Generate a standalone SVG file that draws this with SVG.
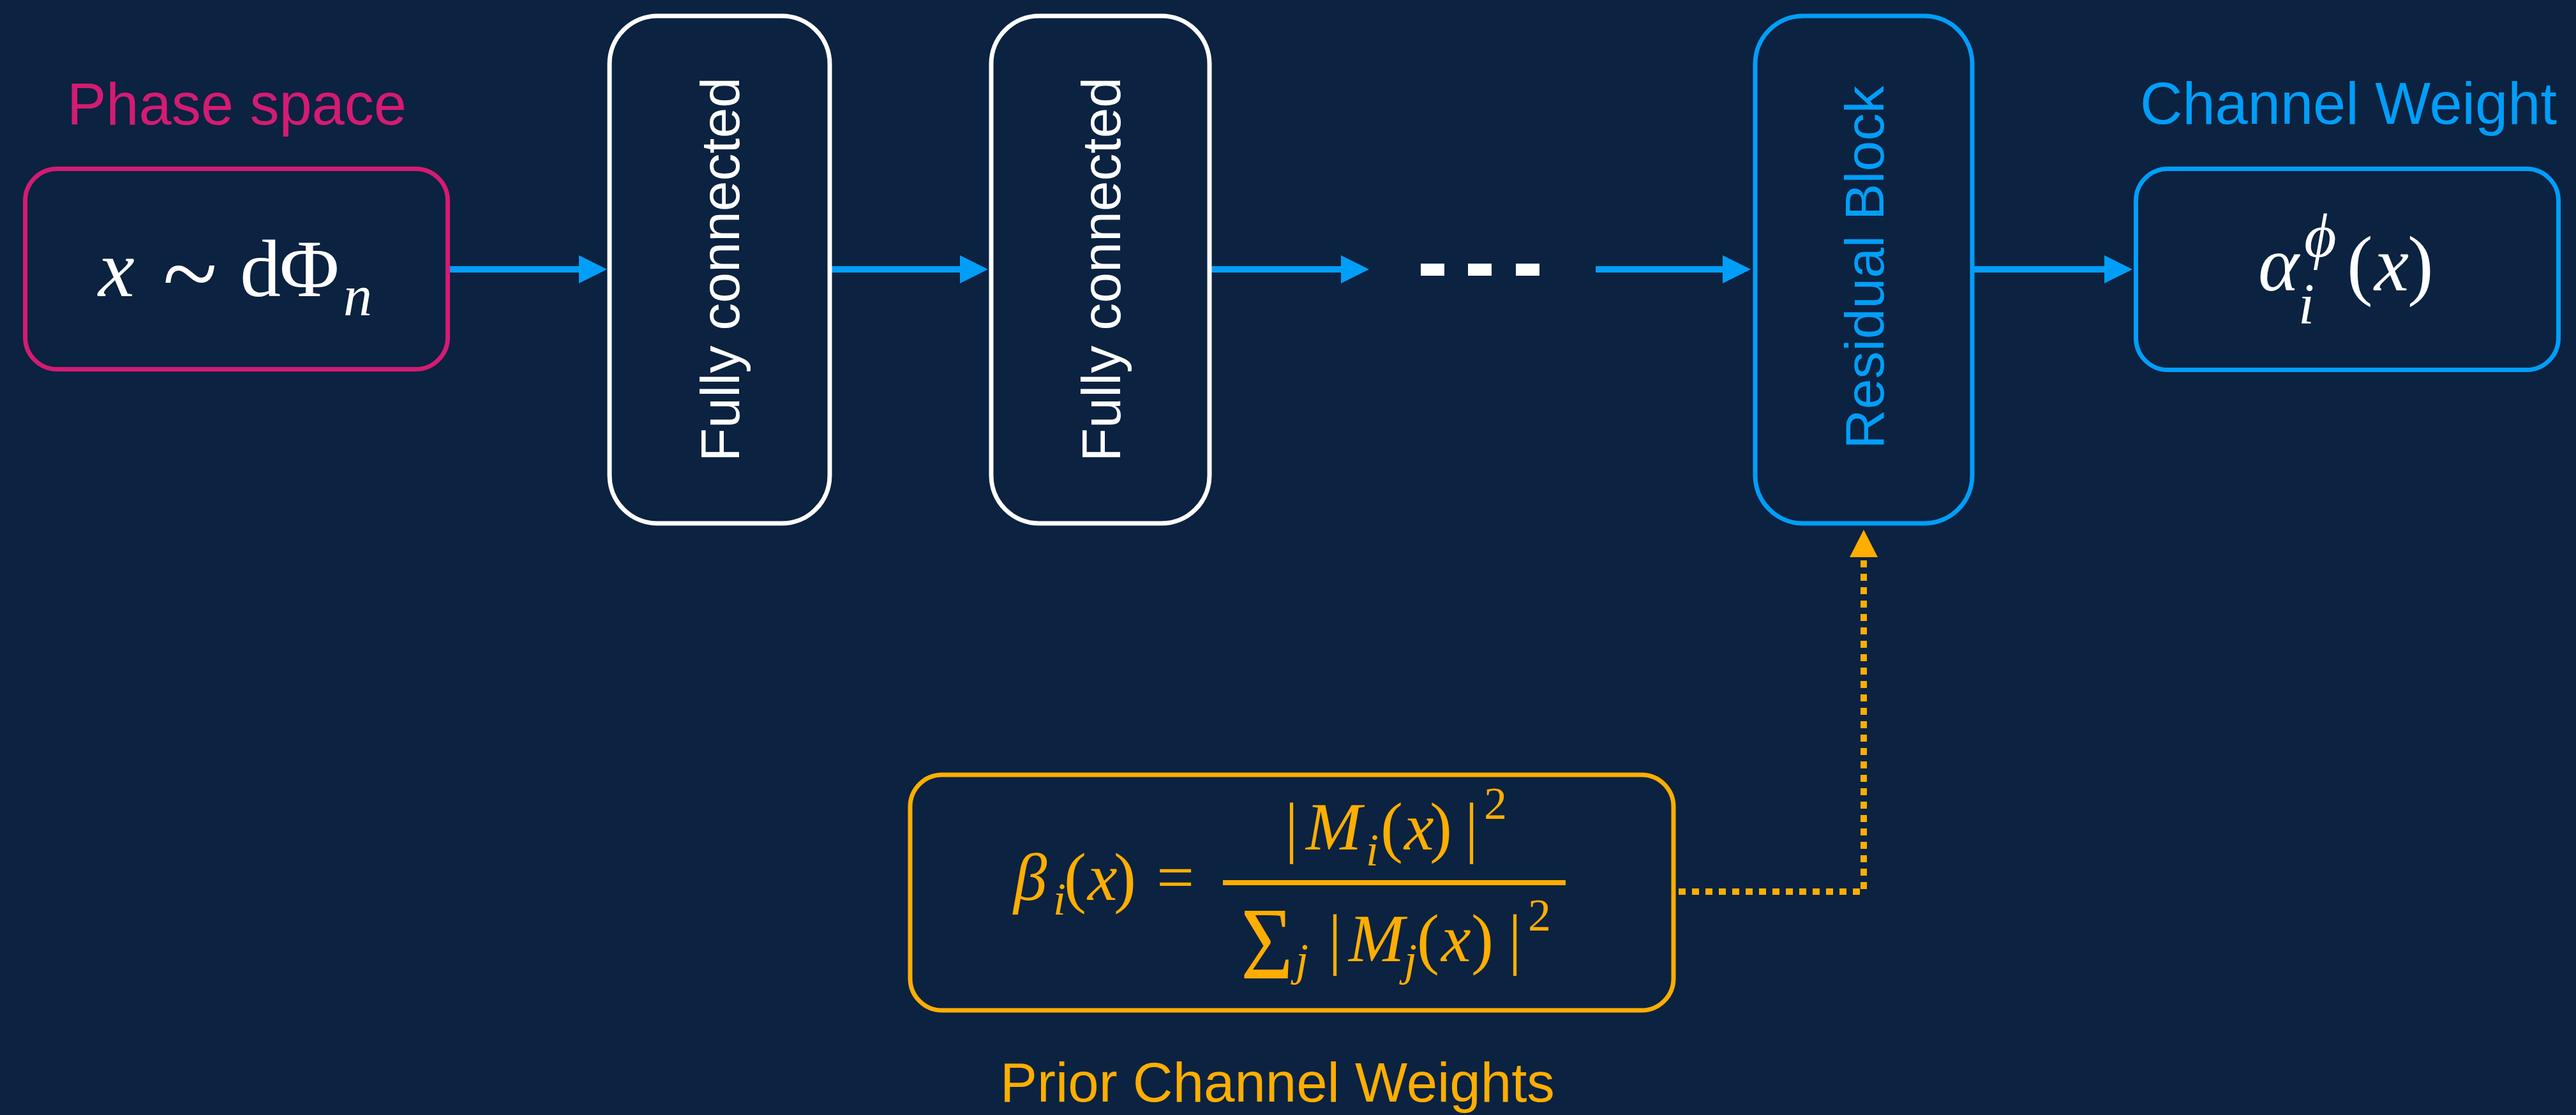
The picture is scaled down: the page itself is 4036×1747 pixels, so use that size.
<svg xmlns="http://www.w3.org/2000/svg" width="4036" height="1747" viewBox="0 0 4036 1747">
  <defs>
    <style>
      .label { font-family: "Liberation Sans", Arial, sans-serif; }
      .math { font-family: "Liberation Serif", "DejaVu Serif", serif; }
      .it { font-style: italic; }
      .box { fill: none; stroke-width: 7; }
      .flow { stroke: #019ef8; stroke-width: 10; fill: none; }
      .prior { stroke: #ffae00; stroke-width: 10; fill: none; stroke-dasharray: 11 10; }
    </style>
    <marker id="headBlue" markerUnits="userSpaceOnUse" markerWidth="44" markerHeight="44" refX="0" refY="22" orient="auto">
      <path d="M0,0 L44,22 L0,44 z" fill="#019ef8"/>
    </marker>
    <marker id="headOrange" markerUnits="userSpaceOnUse" markerWidth="44" markerHeight="44" refX="0" refY="22" orient="auto">
      <path d="M0,0 L43,22 L0,44 z" fill="#ffae00"/>
    </marker>
  </defs>

  <rect width="4036" height="1747" fill="#0b2241"/>

  <!-- connectors -->
  <g id="connectors">
    <line class="flow" x1="705" y1="422" x2="907" y2="422" marker-end="url(#headBlue)"/>
    <line class="flow" x1="1303" y1="422" x2="1504" y2="422" marker-end="url(#headBlue)"/>
    <line class="flow" x1="1898" y1="422" x2="2101" y2="422" marker-end="url(#headBlue)"/>
    <line class="flow" x1="2500" y1="422" x2="2699" y2="422" marker-end="url(#headBlue)"/>
    <line class="flow" x1="3093" y1="422" x2="3297" y2="422" marker-end="url(#headBlue)"/>
    <path class="prior" d="M2630,1397 H2920 V873" marker-end="url(#headOrange)"/>
    <!-- ellipsis between hidden layers -->
    <g fill="#ffffff">
      <rect x="2226" y="413" width="37" height="19"/>
      <rect x="2300" y="413" width="37" height="19"/>
      <rect x="2375" y="413" width="37" height="19"/>
    </g>
  </g>

  <!-- input: phase space point -->
  <g id="phase-space">
    <text class="label" x="105" y="195" font-size="92" fill="#d41b73">Phase space</text>
    <rect class="box" x="39.5" y="264.5" width="662" height="314" rx="50" stroke="#d41b73"/>
    <g class="math" fill="#ffffff" font-size="128">
      <text class="it" x="154" y="464">x</text>
      <text x="255" y="482" font-size="158">~</text>
      <text x="376" y="464">d</text>
      <text x="438" y="464">Φ</text>
      <text class="it" x="538" y="494" font-size="90">n</text>
    </g>
  </g>

  <!-- hidden layers -->
  <g id="fully-connected-1">
    <rect class="box" x="955" y="25" width="345" height="795" rx="75" stroke="#ffffff"/>
    <text class="label" transform="translate(1158,422) rotate(-90)" text-anchor="middle" font-size="86" fill="#ffffff">Fully connected</text>
  </g>
  <g id="fully-connected-2">
    <rect class="box" x="1553" y="25" width="342" height="795" rx="75" stroke="#ffffff"/>
    <text class="label" transform="translate(1755,422) rotate(-90)" text-anchor="middle" font-size="86" fill="#ffffff">Fully connected</text>
  </g>
  <g id="residual-block">
    <rect class="box" x="2750" y="25" width="340" height="795" rx="75" stroke="#019ef8"/>
    <text class="label" transform="translate(2951,419) rotate(-90)" text-anchor="middle" font-size="86" fill="#019ef8">Residual Block</text>
  </g>

  <!-- output: channel weight -->
  <g id="channel-weight">
    <text class="label" x="3353" y="194" font-size="92" fill="#019ef8">Channel Weight</text>
    <rect class="box" x="3346.5" y="264.5" width="662" height="315" rx="50" stroke="#019ef8"/>
    <g class="math" fill="#ffffff" font-size="122">
      <text class="it" x="3538" y="455">α</text>
      <text class="it" x="3601" y="507" font-size="90">i</text>
      <text class="it" x="3610" y="402" font-size="98">ϕ</text>
      <text x="3677" y="455">(</text>
      <text class="it" x="3720" y="455">x</text>
      <text x="3772" y="455">)</text>
    </g>
  </g>

  <!-- prior channel weights -->
  <g id="prior-weights">
    <rect class="box" x="1426" y="1214" width="1196" height="369" rx="50" stroke="#ffae00"/>
    <g class="math" fill="#ffae00" font-size="105">
      <text class="it" x="1588" y="1410">β</text>
      <text class="it" x="1650" y="1433" font-size="72">i</text>
      <text x="1667" y="1410">(</text>
      <text class="it" x="1704" y="1410">x</text>
      <text x="1745" y="1410">)</text>
      <text x="1812" y="1410">=</text>
      <rect x="1916" y="1379" width="537" height="8"/>
      <!-- numerator -->
      <text x="2013" y="1331">|</text>
      <text class="it" x="2046" y="1331">M</text>
      <text class="it" x="2140" y="1356" font-size="72">i</text>
      <text x="2163" y="1331">(</text>
      <text class="it" x="2200" y="1331">x</text>
      <text x="2240" y="1331">)</text>
      <text x="2295" y="1331">|</text>
      <text x="2325" y="1283" font-size="72">2</text>
      <!-- denominator -->
      <text x="1944" y="1533" font-size="160" transform="translate(1944,0) scale(0.88,1) translate(-1944,0)">Σ</text>
      <text class="it" x="2030" y="1528" font-size="72">j</text>
      <text x="2081" y="1506">|</text>
      <text class="it" x="2113" y="1506">M</text>
      <text class="it" x="2200" y="1528" font-size="72">j</text>
      <text x="2220" y="1506">(</text>
      <text class="it" x="2258" y="1506">x</text>
      <text x="2305" y="1506">)</text>
      <text x="2363" y="1506">|</text>
      <text x="2394" y="1458" font-size="72">2</text>
    </g>
    <text class="label" x="1567" y="1726" font-size="87" fill="#ffae00">Prior Channel Weights</text>
  </g>
</svg>
